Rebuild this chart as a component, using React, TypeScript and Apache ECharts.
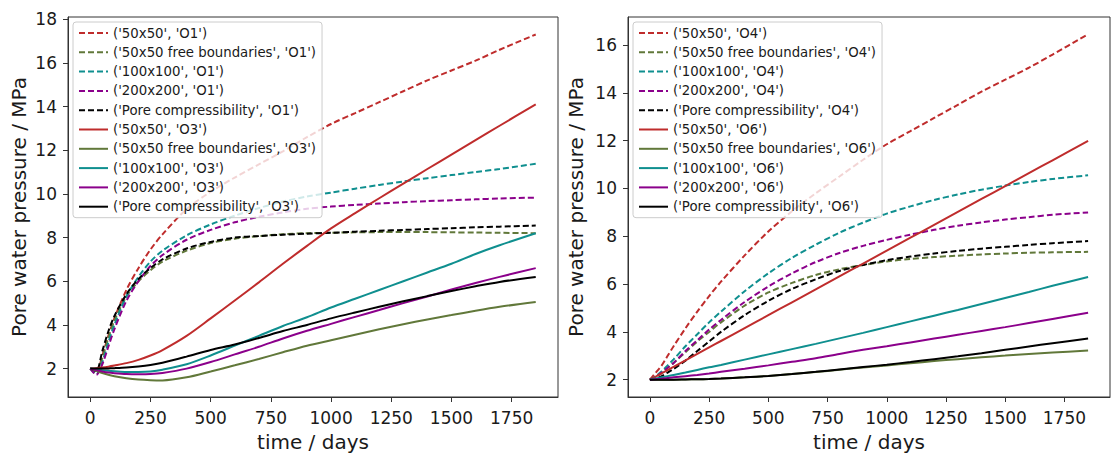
import React, { useEffect, useRef } from "react";
import * as echarts from "echarts";

const times = [0, 25, 50, 75, 100, 150, 200, 250, 300, 400, 500, 600, 700, 800, 900, 1000, 1100, 1200, 1300, 1400, 1500, 1600, 1700, 1850];
const xTicks = [0, 250, 500, 750, 1000, 1250, 1500, 1750];
const leftYTicks = [2, 4, 6, 8, 10, 12, 14, 16, 18];
const rightYTicks = [2, 4, 6, 8, 10, 12, 14, 16];

const labelsLeft = [
  "('50x50', 'O1')",
  "('50x50 free boundaries', 'O1')",
  "('100x100', 'O1')",
  "('200x200', 'O1')",
  "('Pore compressibility', 'O1')",
  "('50x50', 'O3')",
  "('50x50 free boundaries', 'O3')",
  "('100x100', 'O3')",
  "('200x200', 'O3')",
  "('Pore compressibility', 'O3')",
];
const labelsRight = [
  "('50x50', 'O4')",
  "('50x50 free boundaries', 'O4')",
  "('100x100', 'O4')",
  "('200x200', 'O4')",
  "('Pore compressibility', 'O4')",
  "('50x50', 'O6')",
  "('50x50 free boundaries', 'O6')",
  "('100x100', 'O6')",
  "('200x200', 'O6')",
  "('Pore compressibility', 'O6')",
];

// Left panel (O1 dashed, O3 solid)
const leftRedDashed = [2, 1.8, 2.6, 3.5, 4.3, 5.6, 6.6, 7.45, 8.15, 9.3, 10.1, 10.75, 11.35, 11.95, 12.6, 13.2, 13.7, 14.2, 14.7, 15.2, 15.65, 16.1, 16.6, 17.3];
const leftOliveDashed = [2, 1.8, 2.5, 3.4, 4.2, 5.3, 6.0, 6.5, 6.9, 7.4, 7.75, 7.95, 8.07, 8.15, 8.2, 8.22, 8.24, 8.25, 8.25, 8.25, 8.24, 8.23, 8.22, 8.2];
const leftTealDashed = [2, 1.75, 2.3, 3.2, 4.0, 5.3, 6.2, 6.9, 7.4, 8.1, 8.6, 9.0, 9.35, 9.65, 9.88, 10.06, 10.24, 10.41, 10.57, 10.72, 10.86, 11.0, 11.14, 11.38];
const leftPurpleDashed = [2, 1.72, 2.2, 3.0, 3.8, 5.1, 6.0, 6.7, 7.2, 7.9, 8.35, 8.7, 8.95, 9.15, 9.32, 9.42, 9.5, 9.56, 9.62, 9.67, 9.71, 9.75, 9.79, 9.83];
const leftBlackDashed = [2, 1.9, 2.8, 3.7, 4.4, 5.4, 6.1, 6.6, 7.0, 7.5, 7.8, 8.0, 8.07, 8.13, 8.18, 8.22, 8.27, 8.31, 8.35, 8.39, 8.43, 8.47, 8.5, 8.55];
const leftRedSolid = [2, 2.02, 2.05, 2.09, 2.14, 2.25, 2.4, 2.6, 2.85, 3.5, 4.3, 5.12, 5.95, 6.8, 7.62, 8.42, 9.12, 9.8, 10.47, 11.14, 11.8, 12.46, 13.12, 14.1];
const leftOliveSolid = [2, 1.9, 1.8, 1.72, 1.65, 1.56, 1.5, 1.47, 1.46, 1.6, 1.87, 2.15, 2.44, 2.75, 3.05, 3.3, 3.55, 3.8, 4.03, 4.25, 4.45, 4.65, 4.83, 5.05];
const leftTealSolid = [2, 1.97, 1.93, 1.9, 1.88, 1.85, 1.85, 1.87, 1.95, 2.2, 2.6, 3.05, 3.5, 3.95, 4.35, 4.8, 5.2, 5.6, 6.0, 6.4, 6.8, 7.25, 7.65, 8.2];
const leftPurpleSolid = [2, 1.93, 1.87, 1.82, 1.79, 1.75, 1.74, 1.75, 1.8, 2.0, 2.3, 2.65, 3.0, 3.38, 3.73, 4.05, 4.37, 4.68, 5.0, 5.3, 5.62, 5.92, 6.2, 6.6];
const leftBlackSolid = [2, 2.0, 2.0, 2.01, 2.02, 2.05, 2.1, 2.17, 2.27, 2.55, 2.85, 3.1, 3.4, 3.72, 4.0, 4.3, 4.57, 4.83, 5.08, 5.32, 5.55, 5.77, 5.97, 6.2];

// Right panel (O4 dashed, O6 solid)
const rightRedDashed = [2, 2.3, 2.6, 3.0, 3.4, 4.15, 4.85, 5.5, 6.1, 7.2, 8.2, 9.05, 9.8, 10.5, 11.2, 11.85, 12.4, 12.95, 13.5, 14.05, 14.55, 15.05, 15.6, 16.45];
const rightOliveDashed = [2, 2.12, 2.3, 2.5, 2.7, 3.15, 3.6, 4.0, 4.4, 5.1, 5.65, 6.05, 6.38, 6.62, 6.8, 6.95, 7.05, 7.13, 7.19, 7.24, 7.28, 7.31, 7.33, 7.35];
const rightTealDashed = [2, 2.15, 2.35, 2.6, 2.85, 3.4, 3.9, 4.4, 4.85, 5.7, 6.45, 7.1, 7.65, 8.15, 8.57, 8.95, 9.25, 9.52, 9.75, 9.95, 10.12, 10.27, 10.4, 10.55];
const rightPurpleDashed = [2, 2.12, 2.3, 2.5, 2.7, 3.2, 3.65, 4.1, 4.5, 5.25, 5.9, 6.45, 6.92, 7.3, 7.6, 7.85, 8.07, 8.27, 8.44, 8.58, 8.7, 8.8, 8.9, 9.0];
const rightBlackDashed = [2, 2.05, 2.15, 2.3, 2.45, 2.8, 3.2, 3.6, 4.0, 4.7, 5.3, 5.8, 6.2, 6.55, 6.8, 7.0, 7.15, 7.28, 7.39, 7.48, 7.56, 7.64, 7.71, 7.8];
const rightRedSolid = [2, 2.13, 2.27, 2.4, 2.54, 2.81, 3.08, 3.35, 3.62, 4.16, 4.7, 5.24, 5.78, 6.32, 6.86, 7.4, 7.94, 8.48, 9.02, 9.56, 10.1, 10.64, 11.18, 11.99];
const rightOliveSolid = [2, 2, 2, 2, 2, 2.01, 2.02, 2.03, 2.05, 2.1, 2.16, 2.24, 2.32, 2.42, 2.51, 2.6, 2.69, 2.78, 2.86, 2.94, 3.01, 3.08, 3.14, 3.22];
const rightTealSolid = [2, 2.05, 2.1, 2.15, 2.2, 2.3, 2.41, 2.52, 2.62, 2.84, 3.06, 3.28, 3.5, 3.73, 3.96, 4.2, 4.44, 4.68, 4.92, 5.17, 5.42, 5.67, 5.93, 6.3];
const rightPurpleSolid = [2, 2.02, 2.04, 2.07, 2.1, 2.15, 2.2, 2.26, 2.33, 2.46, 2.6, 2.75, 2.9, 3.08, 3.25, 3.4, 3.56, 3.72, 3.88, 4.04, 4.2, 4.37, 4.54, 4.8];
const rightBlackSolid = [2, 2, 2, 2, 2, 2.01, 2.02, 2.03, 2.05, 2.1, 2.16, 2.24, 2.33, 2.43, 2.53, 2.63, 2.74, 2.86, 2.98, 3.11, 3.25, 3.39, 3.53, 3.72];

const colors = ["#bf2c2c", "#61783a", "#0f8f8f", "#8b008b", "#000000"];

const leftData = [
  leftRedDashed, leftOliveDashed, leftTealDashed, leftPurpleDashed, leftBlackDashed,
  leftRedSolid, leftOliveSolid, leftTealSolid, leftPurpleSolid, leftBlackSolid,
];
const rightData = [
  rightRedDashed, rightOliveDashed, rightTealDashed, rightPurpleDashed, rightBlackDashed,
  rightRedSolid, rightOliveSolid, rightTealSolid, rightPurpleSolid, rightBlackSolid,
];

const FONT = "DejaVu Sans";

function buildSeries(labels: string[], data: number[][], idx: number) {
  return labels.map((name, i) => {
    const dashed = i < 5;
    const color = colors[i % 5];
    return {
      type: "line",
      name,
      xAxisIndex: idx,
      yAxisIndex: idx,
      data: times.map((t, k) => [t, data[i][k]]),
      symbol: "none",
      smooth: 0.3,
      z: dashed ? 2 : 3,
      itemStyle: { color },
      lineStyle: { color, width: 2, type: dashed ? [6, 3] : "solid" },
    };
  });
}

function xAxis(idx: number) {
  return {
    type: "value",
    gridIndex: idx,
    min: -92.5,
    max: 1942.5,
    name: "time / days",
    nameLocation: "middle",
    nameGap: 35,
    nameTextStyle: { fontFamily: FONT, fontSize: 20, color: "#1a1a1a" },
    splitLine: { show: false },
    axisLine: { show: true, onZero: false, lineStyle: { color: "#333", width: 1 } },
    axisTick: { show: true, length: 5, customValues: xTicks, lineStyle: { color: "#333" } },
    axisLabel: {
      customValues: xTicks,
      margin: 12,
      fontFamily: FONT,
      fontSize: 17,
      color: "#1a1a1a",
      formatter: (v: number) => String(v),
    },
  };
}

function yAxis(idx: number, min: number, max: number, ticks: number[], gap: number) {
  return {
    type: "value",
    gridIndex: idx,
    min,
    max,
    name: "Pore water pressure / MPa",
    nameLocation: "middle",
    nameGap: gap,
    nameTextStyle: { fontFamily: FONT, fontSize: 20, color: "#1a1a1a" },
    splitLine: { show: false },
    axisLine: { show: true, onZero: false, lineStyle: { color: "#333", width: 1 } },
    axisTick: { show: true, length: 5, customValues: ticks, lineStyle: { color: "#333" } },
    axisLabel: {
      customValues: ticks,
      margin: 11,
      fontFamily: FONT,
      fontSize: 17,
      color: "#1a1a1a",
      formatter: (v: number) => String(v),
    },
  };
}

function legend(labels: string[], left: number) {
  return {
    data: labels,
    orient: "vertical",
    left,
    top: 22,
    padding: [4, 6, 4, 5],
    itemWidth: 29,
    itemHeight: 14,
    itemGap: 5.3,
    backgroundColor: "rgba(255,255,255,0.8)",
    borderColor: "#cccccc",
    borderWidth: 1,
    borderRadius: 3,
    selectedMode: false,
    itemStyle: { opacity: 0 },
    textStyle: { fontFamily: FONT, fontSize: 13.3, color: "#1a1a1a", lineHeight: 14 },
  };
}

export default function App() {
  const ref = useRef<HTMLDivElement>(null);
  useEffect(() => {
    if (!ref.current) return;
    const chart = echarts.init(ref.current, null, { renderer: "svg" });
    chart.setOption({
      animation: false,
      backgroundColor: "#ffffff",
      grid: [
        { left: 68, top: 17, width: 490, height: 389, show: true, borderColor: "#333", borderWidth: 1, backgroundColor: "transparent" },
        { left: 628, top: 17, width: 482, height: 389, show: true, borderColor: "#333", borderWidth: 1, backgroundColor: "transparent" },
      ],
      xAxis: [xAxis(0), xAxis(1)],
      yAxis: [yAxis(0, 0.7, 18.1, leftYTicks, 39), yAxis(1, 1.2775, 17.1725, rightYTicks, 42)],
      legend: [legend(labelsLeft, 73), legend(labelsRight, 633)],
      series: [...buildSeries(labelsLeft, leftData, 0), ...buildSeries(labelsRight, rightData, 1)],
    });
    return () => chart.dispose();
  }, []);
  return (
    <div
      ref={ref}
      style={{ position: "absolute", left: 0, top: 0, width: 1113, height: 457 }}
    />
  );
}
